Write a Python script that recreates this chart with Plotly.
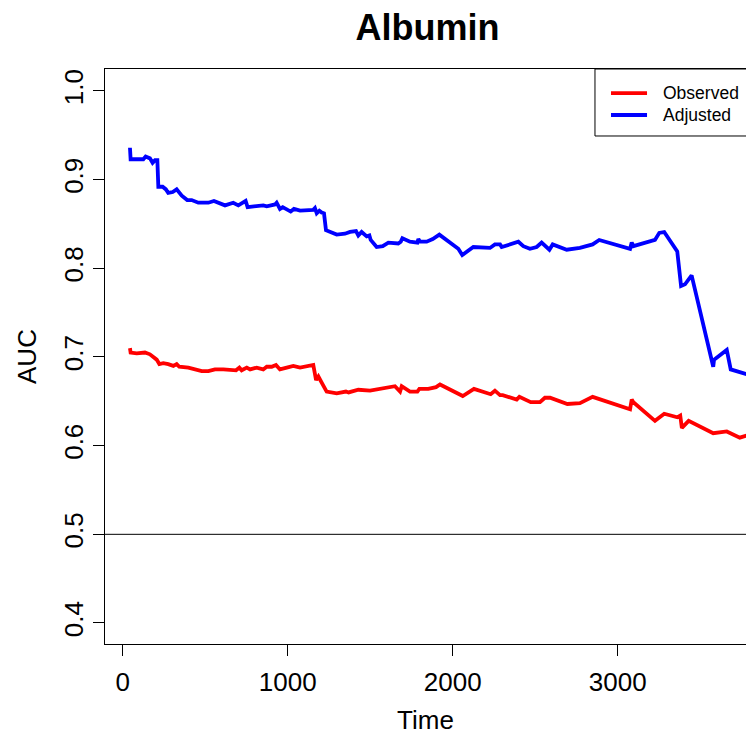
import plotly.graph_objects as go

# Time points and AUC estimates
adj_time = [44, 48, 125, 139, 165, 181, 196, 210, 216, 242, 262, 276, 303, 327, 358, 391, 418, 458, 519, 553,
            620, 670, 701, 745, 757, 792, 852, 873, 923, 933, 953, 970, 1018, 1038, 1075, 1155, 1165, 1176, 1192, 1206,
            1220, 1232, 1256, 1297, 1347, 1378, 1414, 1428, 1448, 1479, 1495, 1503, 1539, 1576, 1610, 1670, 1685, 1695,
            1741, 1786, 1792, 1802, 1842, 1879, 1919, 1964, 2034, 2058, 2125, 2226, 2256, 2287, 2297, 2398, 2428, 2468,
            2509, 2539, 2586, 2606, 2691, 2771, 2848, 2888, 3075, 3085, 3095, 3226, 3252, 3282, 3361, 3384, 3408, 3448,
            3579, 3584, 3661, 3685, 3790]
adj_auc = [0.936, 0.923, 0.923, 0.926, 0.924, 0.919, 0.922, 0.922, 0.892, 0.892, 0.889, 0.885, 0.886, 0.889, 0.882,
           0.877, 0.877, 0.874, 0.874, 0.876, 0.871, 0.874, 0.871, 0.876, 0.869, 0.870, 0.871, 0.870, 0.872, 0.874,
           0.867, 0.869, 0.864, 0.867, 0.865, 0.866, 0.868, 0.862, 0.865, 0.863, 0.862, 0.843, 0.841, 0.838, 0.839,
           0.841, 0.842, 0.837, 0.841, 0.836, 0.837, 0.832, 0.824, 0.825, 0.829, 0.828, 0.830, 0.834, 0.830, 0.829,
           0.833, 0.830, 0.830, 0.833, 0.838, 0.832, 0.822, 0.815, 0.824, 0.823, 0.827, 0.827, 0.824, 0.830, 0.825,
           0.822, 0.824, 0.829, 0.821, 0.827, 0.821, 0.823, 0.827, 0.832, 0.822, 0.829, 0.825, 0.832, 0.840, 0.841,
           0.819, 0.780, 0.782, 0.792, 0.689, 0.697, 0.708, 0.686, 0.680]

obs_time = [44, 48, 85, 115, 135, 165, 182, 196, 206, 222, 246, 276, 307, 327, 343, 398, 448, 479, 519, 559,
            610, 650, 687, 707, 721, 752, 772, 812, 852, 873, 903, 929, 953, 994, 1034, 1075, 1155, 1172, 1186, 1206,
            1236, 1297, 1353, 1369, 1428, 1499, 1559, 1610, 1650, 1681, 1691, 1741, 1786, 1798, 1852, 1899, 1923, 2061,
            2088, 2129, 2230, 2256, 2287, 2303, 2388, 2404, 2473, 2529, 2559, 2590, 2695, 2771, 2848, 3075, 3085, 3095,
            3226, 3282, 3361, 3379, 3389, 3430, 3579, 3661, 3740, 3790]
obs_auc = [0.710, 0.705, 0.704, 0.704, 0.705, 0.703, 0.700, 0.698, 0.697, 0.692, 0.693, 0.692, 0.690, 0.692, 0.689,
           0.688, 0.685, 0.684, 0.684, 0.686, 0.686, 0.686, 0.685, 0.688, 0.685, 0.688, 0.686, 0.688, 0.686, 0.689,
           0.689, 0.691, 0.686, 0.688, 0.690, 0.688, 0.691, 0.674, 0.678, 0.671, 0.661, 0.659, 0.661, 0.660, 0.663,
           0.662, 0.664, 0.666, 0.667, 0.661, 0.667, 0.661, 0.661, 0.664, 0.664, 0.666, 0.669, 0.656, 0.659, 0.664,
           0.658, 0.662, 0.657, 0.657, 0.652, 0.655, 0.649, 0.649, 0.654, 0.654, 0.647, 0.648, 0.655, 0.641, 0.652,
           0.649, 0.628, 0.636, 0.632, 0.634, 0.620, 0.628, 0.614, 0.616, 0.609, 0.612]

x_ticks = [0, 1000, 2000, 3000]
y_ticks = [0.4, 0.5, 0.6, 0.7, 0.8, 0.9, 1.0]
reference_auc = 0.5

series_names = ["Observed", "Adjusted"]
series_colors = ["#FF0000", "#0000FF"]

FONT = "Liberation Sans, Arial, Helvetica, sans-serif"
LINE_W = 3.8

fig = go.Figure()
fig.add_trace(go.Scatter(x=obs_time, y=obs_auc, mode="lines", name=series_names[0],
                         line=dict(color=series_colors[0], width=LINE_W)))
fig.add_trace(go.Scatter(x=adj_time, y=adj_auc, mode="lines", name=series_names[1],
                         line=dict(color=series_colors[1], width=LINE_W)))

# horizontal reference line at AUC = 0.5
fig.add_shape(type="line", xref="paper", yref="y", x0=0, x1=1, y0=reference_auc, y1=reference_auc,
              line=dict(color="black", width=1))

# legend box anchored at the top-right corner of the plot
fig.add_shape(type="rect", xref="paper", yref="paper", x0=0.7644, x1=1.03, y0=0.8835, y1=1.0,
              line=dict(color="black", width=1), fillcolor="white", layer="above")
legend_rows = [0.958, 0.9200]
for name, color, yy in zip(series_names, series_colors, legend_rows):
    fig.add_shape(type="line", xref="paper", yref="paper", x0=0.7894, x1=0.8456, y0=yy, y1=yy,
                  line=dict(color=color, width=LINE_W), layer="above")
    fig.add_annotation(xref="paper", yref="paper", x=0.8675, y=yy, text=name, showarrow=False,
                       xanchor="left", yanchor="middle", font=dict(family=FONT, size=17.5, color="black"))

fig.update_layout(
    width=746, height=738,
    margin=dict(l=105, r=0, t=69, b=94),
    paper_bgcolor="white", plot_bgcolor="white",
    showlegend=False,
    font=dict(family=FONT, color="black"),
    title=dict(text="<b>Albumin</b>", x=427.5 / 746, xref="container", xanchor="center",
               y=1 - 27 / 738, yref="container", yanchor="middle",
               font=dict(family=FONT, size=36, color="black")),
)
fig.update_xaxes(
    range=[-107.3, 3777.6], tickvals=x_ticks, ticktext=[str(v) for v in x_ticks],
    showgrid=False, zeroline=False, showline=True, mirror=True, linecolor="black", linewidth=1,
    ticks="outside", ticklen=11, tickwidth=1, tickcolor="black", ticklabelstandoff=4,
    tickfont=dict(family=FONT, size=26, color="black"),
    title=dict(text="Time", font=dict(family=FONT, size=26, color="black"), standoff=14),
)
fig.update_yaxes(
    range=[0.3763, 1.0248], tickvals=y_ticks, ticktext=[f"{v:.1f}" for v in y_ticks],
    showgrid=False, zeroline=False, showline=True, mirror=False, linecolor="black", linewidth=1,
    ticks="outside", ticklen=11, tickwidth=1, tickcolor="black", tickangle=-90,
    tickfont=dict(family=FONT, size=26, color="black"),
    title=dict(text="AUC", font=dict(family=FONT, size=26, color="black"), standoff=14),
)

fig.write_html("out.html")
